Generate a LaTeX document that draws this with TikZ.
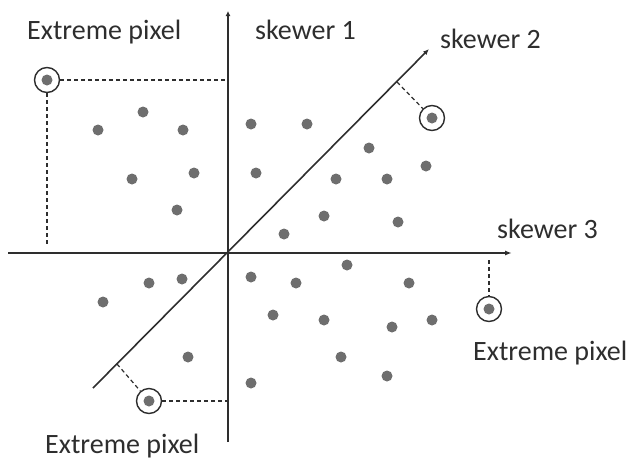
\documentclass[tikz,border=0pt]{standalone}
\usepackage{fontspec}
\setmainfont{Carlito}
\usetikzlibrary{arrows.meta}
\definecolor{ink}{HTML}{2E2E2E}
\definecolor{dotc}{HTML}{6E6E6E}
\tikzset{
  pt/.style={circle,fill=dotc,inner sep=0pt,minimum size=11pt},
  ext/.style={circle,draw=ink,line width=1.4pt,fill=white,inner sep=0pt,minimum size=25pt,
     path picture={\fill[dotc] (path picture bounding box.center) circle (5.5pt);}},
  axis/.style={draw=ink,line width=1.9pt},
  diag/.style={draw=ink,line width=1.6pt},
  proj/.style={draw=ink,line width=1.2pt,dash pattern=on 4pt off 3pt},
  lbl/.style={text=ink,inner sep=0pt,font=\fontsize{28}{31}\selectfont,anchor=base west}
}
\begin{document}
\begin{tikzpicture}[x=1pt,y=-1pt]
\useasboundingbox (0,0) rectangle (631,461);
% axes
\coordinate (s1top) at (228,11);
\coordinate (s1bot) at (228,442);
\coordinate (s3l) at (8,253);
\coordinate (s3r) at (512,253);
\coordinate (s2l) at (93,388);
\coordinate (s2r) at (429,49);
\draw[axis,-{Latex[length=5pt,width=5pt]}] (s1bot) -- (s1top);
\draw[axis,-{Latex[length=7pt,width=5pt]}] (s3l) -- (s3r);
\draw[diag,-{Latex[length=6pt,width=5pt]}] (s2l) -- (s2r);
% labels
\node[lbl] (l1) at (27,39) {Extreme pixel};
\node[lbl] (k1) at (255,39) {skewer 1};
\node[lbl] (k2) at (440,48) {skewer 2};
\node[lbl] (k3) at (497,238) {skewer 3};
\node[lbl] (l2) at (473,360) {Extreme pixel};
\node[lbl] (l3) at (45,453) {Extreme pixel};
% ordinary pixels
\foreach \x/\y [count=\i] in {98/130,143/112,183/130,132/179,194/173,177/210,
  251/124,307/124,256/173,369/148,336/179,387/179,426/166,324/216,398/222,284/234,
  347/265,409/283,324/320,392/327,432/320,341/357,387/376,251/277,296/283,273/315,251/383,
  103/302,149/283,182/279,188/357}
  \node[pt] (p\i) at (\x,\y) {};
% extreme pixels
\node[ext] (e1) at (47,80) {};
\node[ext] (e2) at (432,118) {};
\node[ext] (e3) at (489,309) {};
\node[ext] (e4) at (149,401) {};
% projection points
\coordinate (q1a) at (228,80);
\coordinate (q1b) at (47,247);
\coordinate (q2) at (397,82);
\coordinate (q3) at (489,260);
\coordinate (q4a) at (117,364);
\coordinate (q4b) at (228,401);
\draw[proj] (e1) -- (q1a);
\draw[proj] (e1) -- (q1b);
\draw[proj] (q2) -- (e2);
\draw[proj] (q3) -- (e3);
\draw[proj] (q4a) -- (e4);
\draw[proj] (e4) -- (q4b);
\end{tikzpicture}
\end{document}
